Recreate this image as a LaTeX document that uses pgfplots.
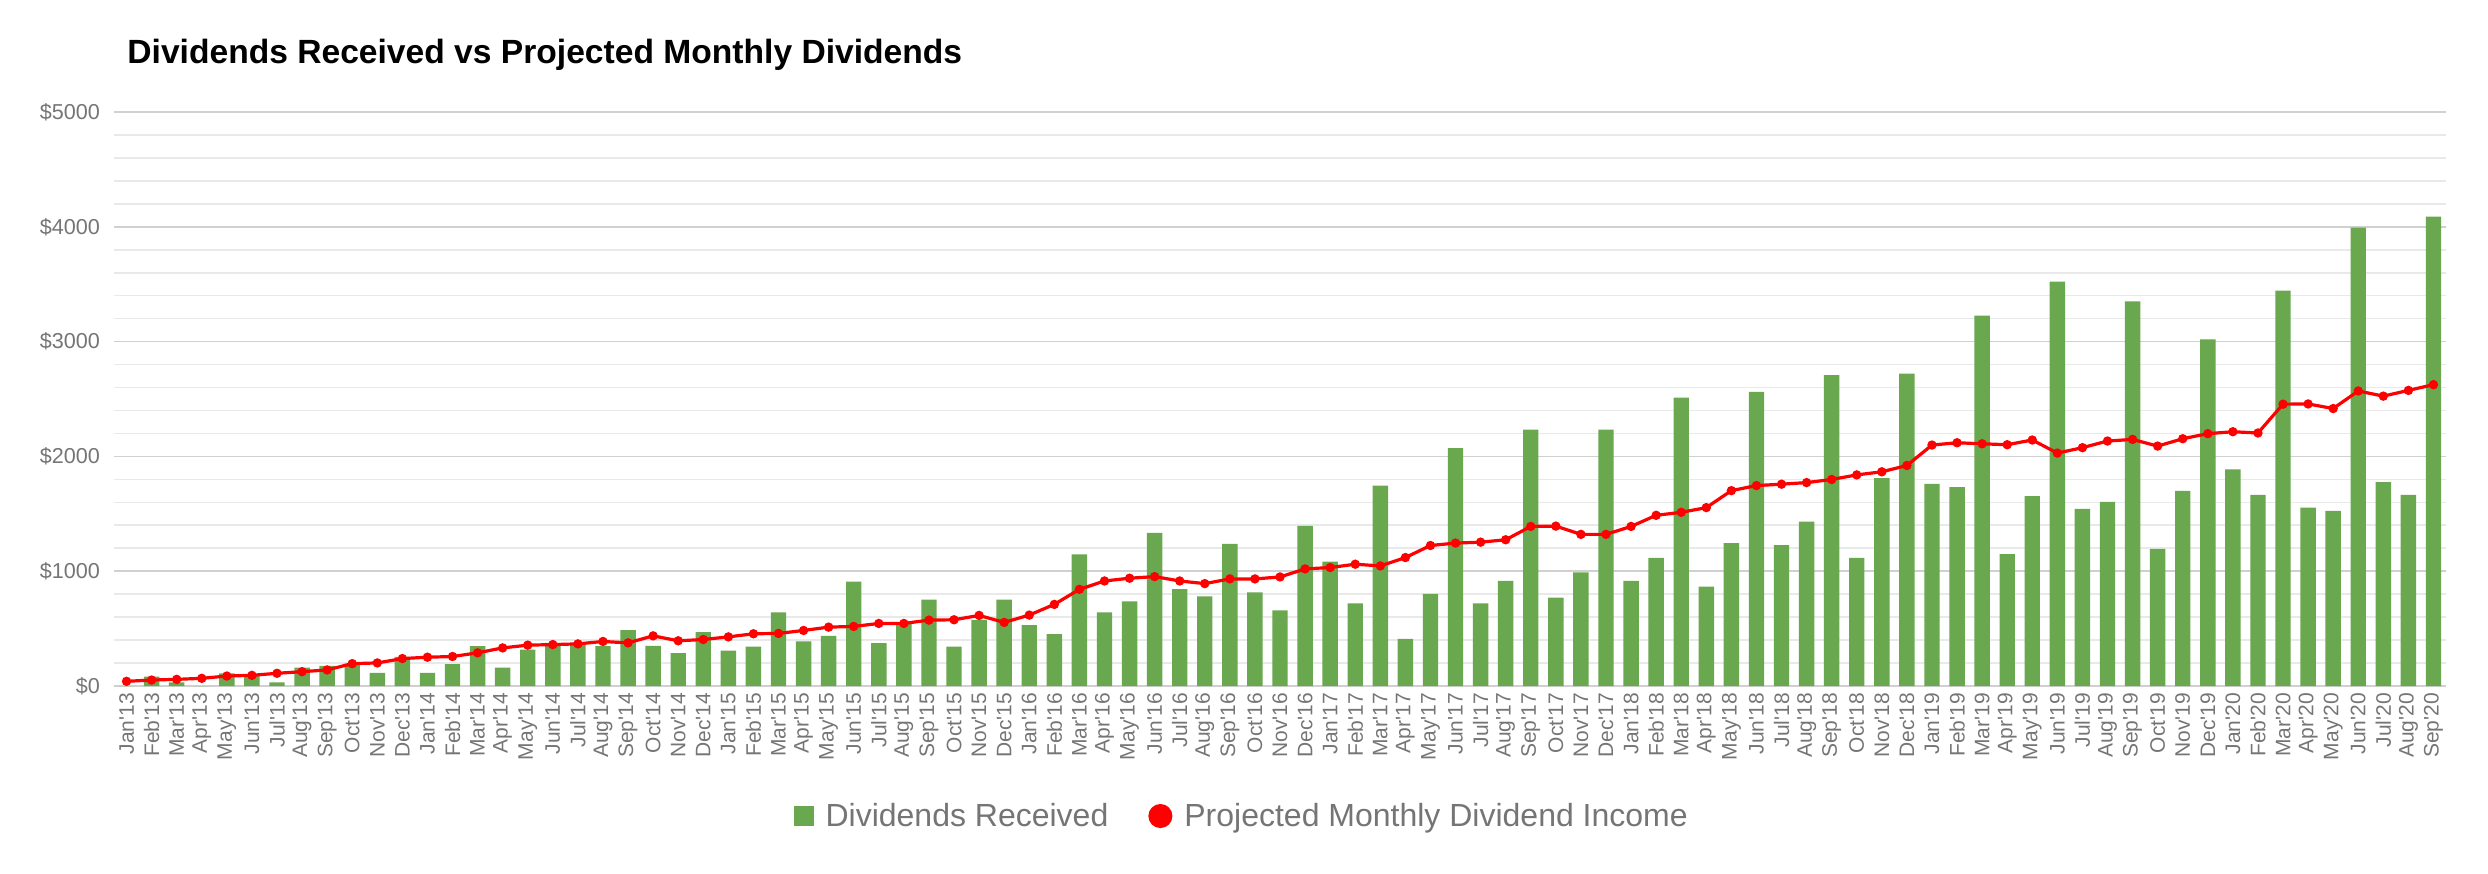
\documentclass[border=0pt]{standalone}
\usepackage{fontspec}
\setmainfont{Liberation Sans}
\usepackage{pgfplots}
\pgfplotsset{compat=1.18}
\usepackage{pgfplotstable}
\definecolor{barg}{HTML}{6AA84F}
\definecolor{tickg}{HTML}{757575}
\definecolor{gridmaj}{HTML}{D0D0D0}
\definecolor{gridmin}{HTML}{E9E9E9}
\newcommand\q{\textquotesingle}

\pgfplotstableread{
x div proj
0 0 41
1 82 52
2 32 58
3 0 67
4 111 87
5 102 93
6 32 111
7 160 125
8 175 140
9 195 195
10 114 201
11 254 239
12 114 251
13 190 257
14 347 289
15 160 332
16 318 356
17 376 361
18 370 367
19 347 388
20 487 376
21 350 437
22 286 394
23 470 405
24 309 428
25 344 455
26 641 458
27 388 484
28 437 513
29 909 519
30 373 545
31 554 545
32 752 574
33 344 577
34 577 615
35 752 554
36 531 618
37 452 711
38 1146 842
39 641 915
40 738 939
41 1335 953
42 845 915
43 781 892
44 1239 933
45 816 933
46 659 950
47 1395 1020
48 1084 1032
49 720 1061
50 1746 1046
51 411 1119
52 802 1224
53 2073 1245
54 720 1253
55 915 1274
56 2233 1390
57 770 1393
58 991 1321
59 2233 1321
60 915 1390
61 1116 1487
62 2513 1513
63 866 1554
64 1245 1702
65 2562 1746
66 1227 1758
67 1431 1772
68 2708 1799
69 1116 1839
70 1810 1866
71 2721 1921
72 1761 2099
73 1732 2119
74 3226 2110
75 1149 2102
76 1653 2143
77 3523 2029
78 1542 2076
79 1603 2134
80 3351 2148
81 1195 2090
82 1699 2154
83 3019 2198
84 1886 2215
85 1664 2204
86 3444 2455
87 1554 2457
88 1525 2417
89 3992 2570
90 1775 2525
91 1664 2575
92 4088 2625
}\data

\begin{document}
\begin{tikzpicture}
\begin{axis}[
  scale only axis, width=1166bp, height=287bp,
  xmin=-0.5, xmax=92.5, ymin=0, ymax=5000,
  axis line style={draw=none},
  major tick length=0, minor tick length=0,
  ytick={0,1000,2000,3000,4000,5000},
  yticklabels={\$0,\$1000,\$2000,\$3000,\$4000,\$5000},
  minor ytick={200,400,600,800,1200,1400,1600,1800,2200,2400,2600,2800,3200,3400,3600,3800,4200,4400,4600,4800},
  ymajorgrids, yminorgrids,
  major grid style={gridmaj, line width=0.8bp},
  minor grid style={gridmin, line width=0.8bp},
  extra y ticks={0}, extra y tick labels={},
  extra y tick style={grid style={black!70, line width=1.1bp}},
  xtick={0,...,92},
  xticklabels={Jan\q13,Feb\q13,Mar\q13,Apr\q13,May\q13,Jun\q13,Jul\q13,Aug\q13,Sep\q13,Oct\q13,Nov\q13,Dec\q13,
    Jan\q14,Feb\q14,Mar\q14,Apr\q14,May\q14,Jun\q14,Jul\q14,Aug\q14,Sep\q14,Oct\q14,Nov\q14,Dec\q14,
    Jan\q15,Feb\q15,Mar\q15,Apr\q15,May\q15,Jun\q15,Jul\q15,Aug\q15,Sep\q15,Oct\q15,Nov\q15,Dec\q15,
    Jan\q16,Feb\q16,Mar\q16,Apr\q16,May\q16,Jun\q16,Jul\q16,Aug\q16,Sep\q16,Oct\q16,Nov\q16,Dec\q16,
    Jan\q17,Feb\q17,Mar\q17,Apr\q17,May\q17,Jun\q17,Jul\q17,Aug\q17,Sep\q17,Oct\q17,Nov\q17,Dec\q17,
    Jan\q18,Feb\q18,Mar\q18,Apr\q18,May\q18,Jun\q18,Jul\q18,Aug\q18,Sep\q18,Oct\q18,Nov\q18,Dec\q18,
    Jan\q19,Feb\q19,Mar\q19,Apr\q19,May\q19,Jun\q19,Jul\q19,Aug\q19,Sep\q19,Oct\q19,Nov\q19,Dec\q19,
    Jan\q20,Feb\q20,Mar\q20,Apr\q20,May\q20,Jun\q20,Jul\q20,Aug\q20,Sep\q20},
  x tick label style={rotate=90, anchor=east, font=\fontsize{10.5bp}{12bp}\selectfont, text=tickg},
  y tick label style={font=\fontsize{10.8bp}{12bp}\selectfont, text=tickg, xshift=-3.5bp},
  legend columns=2,
  legend style={draw=none, fill=none, at={(axis description cs:0.484,-0.2265)}, anchor=center,
    font=\fontsize{16bp}{18bp}\selectfont, text=tickg,
    /tikz/every odd column/.append style={column sep=4bp},
    /tikz/every even column/.append style={column sep=18bp}},
]
\addplot[ybar, bar width=7.7bp, fill=barg, draw=none,
  legend image code/.code={\fill[barg] (0bp,-5bp) rectangle (10bp,5bp);}]
  table[x=x,y=div]{\data};
\addlegendentry{Dividends Received}
\addplot[red, line width=1.6bp, mark=*, mark size=1.5bp, mark options={fill=red, draw=red},
  legend image code/.code={\fill[red] (5bp,0bp) circle (5.2bp);}]
  table[x=x,y=proj]{\data};
\addlegendentry{Projected Monthly Dividend Income}
\end{axis}
\node[anchor=west, font=\fontsize{16.8bp}{19bp}\selectfont\bfseries, text=black]
  at ([xshift=3.2bp,yshift=28.5bp]current axis.north west) {Dividends Received vs Projected Monthly Dividends};
\pgfresetboundingbox
\path[use as bounding box] ([shift={(-57bp,-93.5bp)}]current axis.south west) rectangle ([shift={(21bp,56bp)}]current axis.north east);
\end{tikzpicture}
\end{document}
